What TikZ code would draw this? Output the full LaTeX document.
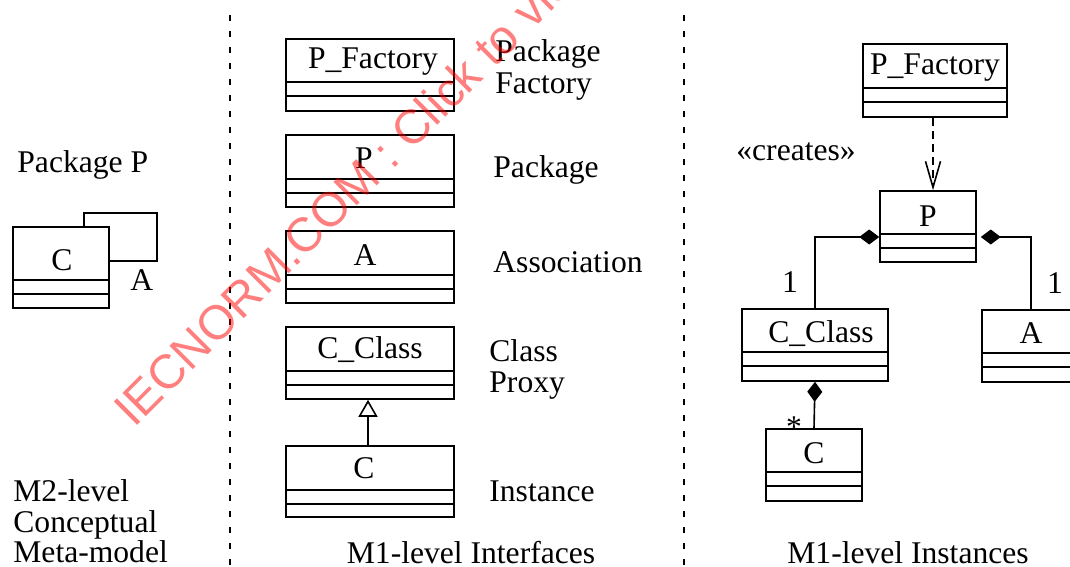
\documentclass[tikz,border=0pt]{standalone}
\usepackage{fontspec}
\setmainfont{Liberation Serif}
\newfontfamily\wmfont{Liberation Sans}
\usetikzlibrary{arrows.meta,fit,calc}
\newcommand\umlclass[9]{%
  \node[box, fit={(#2,#3) (#4,#5)}] (#1) {};
  \draw[cline] (#2,#6) -- (#4,#6) (#2,#6+14) -- (#4,#6+14);
  \node[ctext] (#1-t) at (#7,#8) {#9};
}
\begin{document}
\begin{tikzpicture}[x=0.5pt,y=-0.5pt,
  every node/.style={font=\fontsize{15.8}{19}\selectfont, inner sep=0pt},
  box/.style={draw, line width=0.8pt, inner sep=0pt},
  cline/.style={line width=0.8pt},
  lbl/.style={anchor=base west},
  ctext/.style={anchor=base},
  sep/.style={line width=1pt, dash pattern=on 3pt off 5pt},
  gen/.style={line width=0.8pt, -{Triangle[open, length=8.5pt, width=9.5pt, fill=white]}},
  dep/.style={line width=0.8pt, dash pattern=on 4pt off 2.5pt, -{Straight Barb[length=13pt, width=7.5pt]}},
  comp/.style={line width=0.8pt, {Diamond[length=10pt, width=7.5pt]}-},
]
\useasboundingbox (0,0) rectangle (1070,567);
\clip (0,0) rectangle (1070,567);

% separators
\draw[sep] (229.5,15) -- (229.5,567);
\draw[sep] (684,15) -- (684,567);

% left: M2 level
\node[lbl] (pkgP) at (17,172) {Package P};
\umlclass{lc}{13}{227}{109}{308}{280}{62}{270}{C}
\coordinate (sa1) at (157,213);
\coordinate (sa2) at (0,261);
\draw[cline] ($(lc.north west)+(72,0)$) |- (sa1) |- (lc.east |- sa2);
\node[lbl] (la) at (130,290) {A};
\node[lbl] (m2a) at (13,501) {M2-level};
\node[lbl] (m2b) at (13,532) {Conceptual};
\node[lbl] (m2c) at (13,562) {Meta-model};

% middle: M1 interfaces
\umlclass{mpf}{286}{39}{454}{111}{82}{373}{69}{P\_Factory}
\umlclass{mp}{286}{135}{454}{207}{179}{364}{169}{P}
\umlclass{ma}{286}{231}{454}{303}{275}{365}{265}{A}
\umlclass{mcc}{286}{327}{454}{399}{371}{370}{358}{C\_Class}
\umlclass{mc}{286}{446}{454}{517}{490}{364}{478}{C}
\draw[gen] ($(mc.north)+(-2,0)$) -- ($(mcc.south)+(-2,0)$);
\node[lbl] (l1a) at (495,62) {Package};
\node[lbl] (l1b) at (495,94) {Factory};
\node[lbl] (l2) at (493,177) {Package};
\node[lbl] (l3) at (493,272) {Association};
\node[lbl] (l4a) at (489,361) {Class};
\node[lbl] (l4b) at (489,392) {Proxy};
\node[lbl] (l5) at (489,501) {Instance};
\node[ctext] (t1) at (471,563) {M1-level Interfaces};

% right: M1 instances
\umlclass{rpf}{863}{44}{1007}{117}{88}{935}{75}{P\_Factory}
\umlclass{rp}{880}{191}{976}{262}{234}{928}{226}{P}
\umlclass{rcc}{742}{309}{888}{381}{352}{821}{342}{C\_Class}
\umlclass{ra}{982}{310}{1080}{382}{353}{1031}{343}{A}
\umlclass{rc}{766}{429}{862}{501}{472}{814}{463}{C}
\coordinate (depx) at (933,0);
\draw[dep] (rpf.south -| depx) -- (rp.north -| depx);
\node[lbl] (cr) at (736,161) {«creates»};
\coordinate (cy) at (0,237);
\draw[comp] (rp.west |- cy) -| (rcc.north);
\draw[comp] ($(rp.east |- cy)+(4,0)$) -| (ra.north);
\draw[comp] (rcc.south) -- (rc.north);
\node[ctext] (mul1) at (790,292) {1};
\node[ctext] (mul2) at (1055,293) {1};
\node[ctext] (mul3) at (794,437) {*};
\node[ctext] (t2) at (908,563) {M1-level Instances};

% watermark
\node[rotate=45, anchor=base west, text=red, opacity=0.5, font=\wmfont\fontsize{24}{28}\selectfont] (wm) at (134,429) {IECNORM.COM : Click to view};
\end{tikzpicture}
\end{document}
